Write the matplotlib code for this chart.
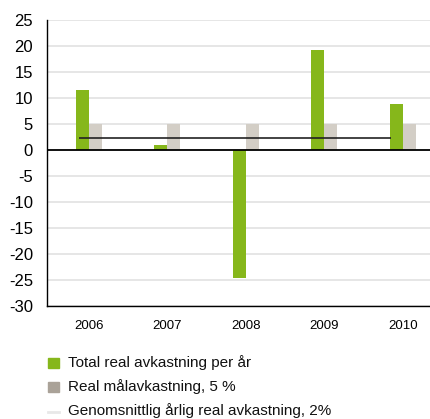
import numpy as np
import matplotlib.pyplot as plt
from matplotlib.patches import Rectangle
from matplotlib.lines import Line2D
from matplotlib.ticker import FuncFormatter

plt.rcParams['font.family'] = ['Liberation Sans', 'DejaVu Sans']

years = ['2006', '2007', '2008', '2009', '2010']
total_real = [11.6, 1.0, -24.7, 19.3, 8.9]
target_real = [5, 5, 5, 5, 5]
avg_real = 2.4

green = '#86b71b'
beige = '#d3cec6'

W, H = 431, 419
fig = plt.figure(figsize=(W / 100, H / 100), dpi=100)
ax = fig.add_axes([0.109, 0.270, 0.891, 0.682])

x = np.arange(len(years))
w = 0.165
ax.bar(x - w / 2, total_real, w, color=green, zorder=3)
ax.bar(x + w / 2, target_real, w, color=beige, zorder=3)

# average line across the categories
ax.hlines(avg_real, x[0] - 0.13, x[-1] - 0.15, color='#222222', lw=1.2, zorder=4)
ax.axhline(0, color='black', lw=1.3, zorder=5)

ax.set_ylim(-30, 25)
ax.set_yticks(np.arange(-30, 26, 5))
ax.yaxis.set_major_formatter(FuncFormatter(lambda v, p: '%d' % v))
ax.set_xlim(-0.535, 4.36)
ax.set_xticks(x)
ax.set_xticklabels(years, fontsize=9.5)
ax.yaxis.grid(True, color='#e2e2e2', lw=1.2, zorder=0)
ax.tick_params(axis='y', length=0, labelsize=12, pad=10)
ax.tick_params(axis='x', length=0, pad=10)

for s in ['top', 'right']:
    ax.spines[s].set_visible(False)
ax.spines['left'].set_color('black')
ax.spines['bottom'].set_color('black')
ax.spines['left'].set_linewidth(1.0)
ax.spines['bottom'].set_linewidth(1.0)

# legend drawn by hand in pixel units
labels = ['Total real avkastning per år',
          'Real målavkastning, 5 %',
          'Genomsnittlig årlig real avkastning, 2%']
rows = [363, 387, 411]
fig.add_artist(Rectangle((48 / W, 1 - 368 / H), 11 / W, 10 / H,
                         color=green, transform=fig.transFigure))
fig.add_artist(Rectangle((48 / W, 1 - 392 / H), 11 / W, 10 / H,
                         color='#aaa298', transform=fig.transFigure))
fig.add_artist(Line2D([48 / W, 59 / W], [1 - 412 / H, 1 - 412 / H],
                      color='#e8e8e8', lw=2, transform=fig.transFigure))
for lab, yy in zip(labels, rows):
    fig.text(68 / W, 1 - yy / H, lab, fontsize=11, va='center', ha='left',
             color='#111111')

fig.savefig('out.png', dpi=100)
